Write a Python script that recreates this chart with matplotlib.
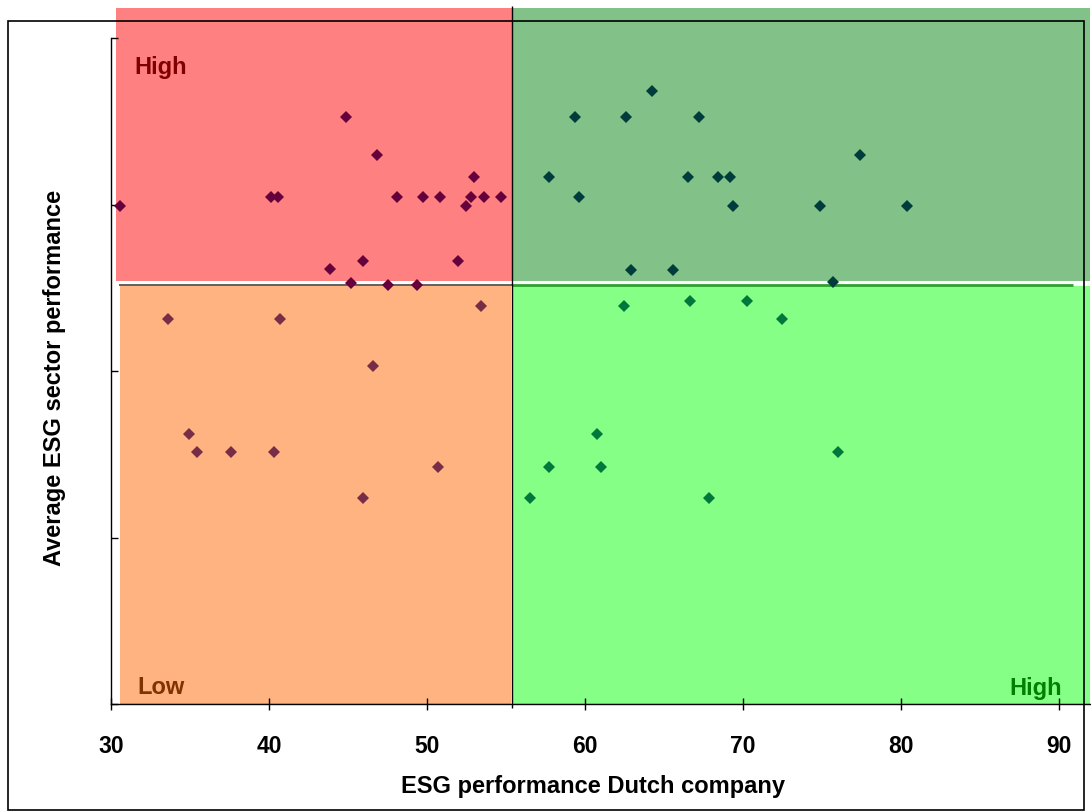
import matplotlib
matplotlib.use("Agg")
import matplotlib.pyplot as plt
from matplotlib.patches import Rectangle

plt.rcParams['font.family'] = ['Liberation Sans', 'DejaVu Sans']
plt.rcParams['font.weight'] = 'bold'

# data (x: ESG score of company, y: sector average, 0-100 scale)
red_x = [30.6, 40.1, 40.6, 44.85, 46.85, 48.1, 49.75, 50.85, 52.95, 52.8, 52.5, 53.6, 54.7,
         43.85, 45.95, 51.95, 45.2, 47.55, 49.4]
red_y = [74.8, 76.2, 76.2, 88.1, 82.4, 76.2, 76.2, 76.2, 79.1, 76.2, 74.8, 76.2, 76.2,
         65.3, 66.6, 66.6, 63.3, 62.9, 62.9]

orange_x = [33.6, 40.7, 53.4, 46.6, 34.95, 35.45, 37.6, 40.3, 50.7, 45.95]
orange_y = [57.9, 57.9, 59.8, 50.7, 40.6, 37.9, 37.9, 37.9, 35.6, 30.9]

dkgreen_x = [64.25, 59.35, 62.6, 67.2, 77.4, 57.7, 66.5, 68.4, 69.2, 59.6, 69.35, 74.9, 80.4,
             62.9, 65.6, 75.7]
dkgreen_y = [92.1, 88.1, 88.1, 88.1, 82.4, 79.1, 79.1, 79.1, 79.1, 76.2, 74.8, 74.8, 74.8,
             65.2, 65.2, 63.4]

ltgreen_x = [62.5, 66.65, 70.25, 72.5, 60.75, 76.05, 57.7, 61.05, 56.55, 67.85]
ltgreen_y = [59.8, 60.6, 60.6, 57.9, 40.6, 37.9, 35.6, 35.6, 30.9, 30.9]

x_ticks = [30, 40, 50, 60, 70, 80, 90]
y_ticks = [0, 25, 50, 75, 100]
x_split = 55.4
y_split = 63.0

fig = plt.figure(figsize=(10.91, 8.12), dpi=100)
ax = fig.add_axes([111 / 1091, 107 / 812, 979 / 1091, 695.7 / 812])
ax.set_xlim(30, 91.98)
ax.set_ylim(0, 104.5)
ax.patch.set_alpha(0)

# quadrant backgrounds
quads = [
    (30.32, y_split + 0.55, x_split - 0.04 - 30.32, 104.5 - y_split - 0.55, '#ff8080'),
    (30.57, 0, x_split - 0.08 - 30.57, y_split - 0.25, '#ffb380'),
    (x_split + 0.04, y_split + 0.55, 91.98 - x_split, 104.5 - y_split - 0.55, '#82c187'),
    (x_split + 0.04, 0, 91.98 - x_split, y_split - 0.25, '#86ff86'),
]
for x0, y0, w, h, c in quads:
    ax.add_patch(Rectangle((x0, y0), w, h, facecolor=c, edgecolor='none', zorder=1))

# bottom edges of the lower fills
ax.hlines(0, 30.57, x_split - 0.08, color='#c0703a', lw=1.2, zorder=1.2)
ax.hlines(0, x_split + 0.04, 91.98, color='#4cc04c', lw=1.2, zorder=1.2)

# dividers
ax.hlines(y_split, 30.5, x_split, color='#444444', lw=1.2, zorder=2)
ax.hlines(y_split, x_split, 90.9, color='#2ea02e', lw=2, zorder=2)
ax.vlines(x_split, -0.6, 104.8, color='black', lw=1, zorder=2, clip_on=False)

ms = 6.3
ax.plot(red_x, red_y, 'D', color='#66003c', ms=ms, mew=0, zorder=4)
ax.plot(orange_x, orange_y, 'D', color='#782d46', ms=ms, mew=0, zorder=4)
ax.plot(dkgreen_x, dkgreen_y, 'D', color='#003c3c', ms=ms, mew=0, zorder=4)
ax.plot(ltgreen_x, ltgreen_y, 'D', color='#00783c', ms=ms, mew=0, zorder=4)

ax.text(31.5, 95.8, 'High', color='#800000', fontsize=17, fontweight='bold', va='center', zorder=5)
ax.text(31.7, 2.7, 'Low', color='#803300', fontsize=17, fontweight='bold', va='center', zorder=5)
ax.text(90.2, 2.5, 'High', color='#008000', fontsize=17, fontweight='bold', va='center',
        ha='right', zorder=5)

for s in ['top', 'right']:
    ax.spines[s].set_visible(False)
ax.spines['left'].set_bounds(0, 100)
ax.spines['bottom'].set_zorder(0.5)
ax.spines['left'].set_linewidth(1)
ax.spines['bottom'].set_linewidth(1)

ax.set_xticks(x_ticks)
ax.set_xticklabels([str(t) for t in x_ticks])
ax.set_yticks(y_ticks)
ax.set_yticklabels([])
ax.tick_params(axis='x', direction='inout', length=9, width=1, labelsize=16.5, pad=17)
ax.tick_params(axis='y', direction='in', length=5, width=1)

fig.text(593 / 1091, 1 - 787 / 812, 'ESG performance Dutch company', ha='center', va='center',
         fontsize=17, fontweight='bold')
fig.text(55 / 1091, 1 - 378 / 812, 'Average ESG sector performance', ha='center', va='center',
         rotation=90, fontsize=17, fontweight='bold')

# outer frame
fig.add_artist(Rectangle((8 / 1091, 1 / 812), 1076 / 1091, 789 / 812, transform=fig.transFigure,
                         fill=False, edgecolor='black', lw=1.2, zorder=10))

fig.savefig('out.png', dpi=100)
